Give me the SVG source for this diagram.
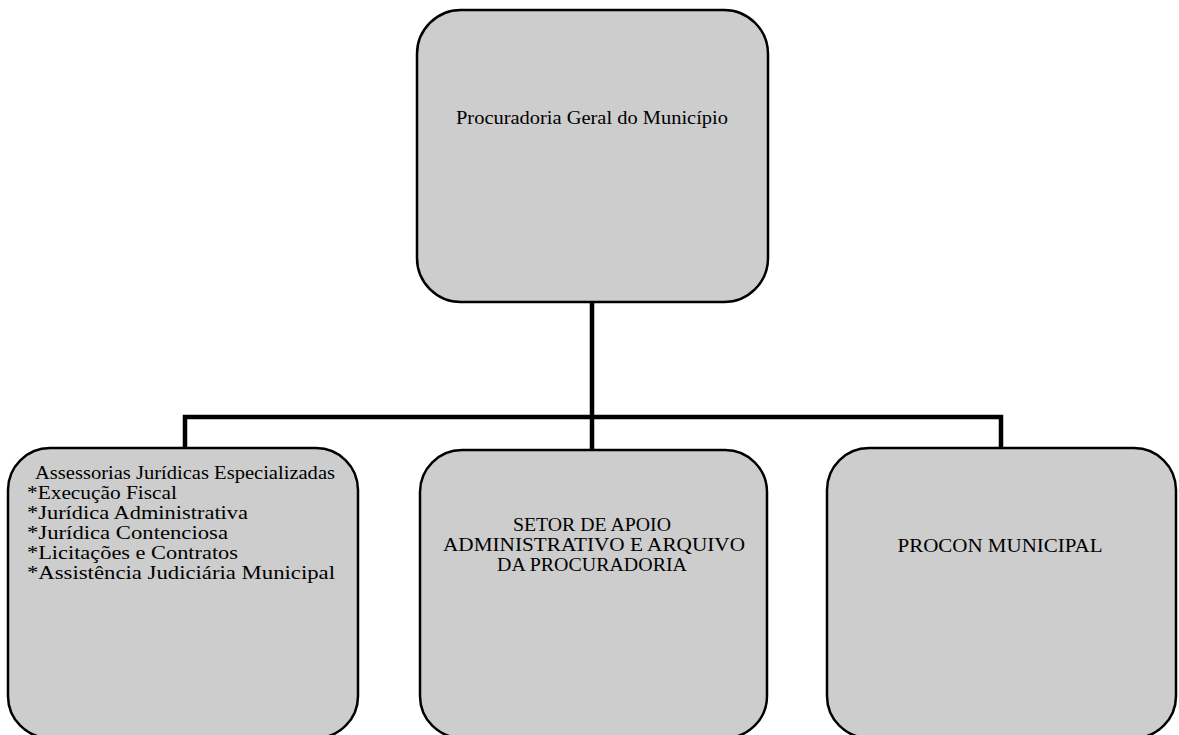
<svg xmlns="http://www.w3.org/2000/svg" width="1179" height="735" viewBox="0 0 1179 735">
<style>
.box{fill:#cdcdcd;stroke:#000;stroke-width:2.5}
.conn{fill:none;stroke:#000;stroke-width:4.5;stroke-linecap:square}
.t{font-family:"Liberation Serif","Times New Roman",serif;font-size:19px;fill:#000}
.c{text-anchor:middle}
</style>
<rect width="1179" height="735" fill="#fff"/>
<g id="connectors">
<path class="conn" d="M592 302 V450"/>
<path class="conn" d="M185 448 V417 H1001 V448"/>
</g>
<g id="node-procuradoria">
<rect class="box" x="417" y="10" width="351" height="292" rx="44" ry="44"/>
<text class="t c" x="592" y="124" textLength="272" lengthAdjust="spacingAndGlyphs">Procuradoria Geral do Município</text>
</g>
<g id="node-assessorias">
<rect class="box" x="8" y="448" width="350" height="290" rx="42" ry="42"/>
<text class="t" x="35" y="479" textLength="300" lengthAdjust="spacingAndGlyphs">Assessorias Jurídicas Especializadas</text>
<text class="t" x="27" y="499" textLength="150" lengthAdjust="spacingAndGlyphs">*Execução Fiscal</text>
<text class="t" x="27" y="519" textLength="221" lengthAdjust="spacingAndGlyphs">*Jurídica Administrativa</text>
<text class="t" x="27" y="539" textLength="201" lengthAdjust="spacingAndGlyphs">*Jurídica Contenciosa</text>
<text class="t" x="27" y="559" textLength="211" lengthAdjust="spacingAndGlyphs">*Licitações e Contratos</text>
<text class="t" x="27" y="579" textLength="308" lengthAdjust="spacingAndGlyphs">*Assistência Judiciária Municipal</text>
</g>
<g id="node-setor">
<rect class="box" x="420" y="450" width="347" height="288" rx="42" ry="42"/>
<text class="t c" x="592" y="531" textLength="158" lengthAdjust="spacingAndGlyphs">SETOR DE APOIO</text>
<text class="t c" x="594" y="551" textLength="302" lengthAdjust="spacingAndGlyphs">ADMINISTRATIVO E ARQUIVO</text>
<text class="t c" x="592" y="571" textLength="190" lengthAdjust="spacingAndGlyphs">DA PROCURADORIA</text>
</g>
<g id="node-procon">
<rect class="box" x="827" y="448" width="349" height="290" rx="42" ry="42"/>
<text class="t c" x="1000" y="552" textLength="205" lengthAdjust="spacingAndGlyphs">PROCON MUNICIPAL</text>
</g>
</svg>
